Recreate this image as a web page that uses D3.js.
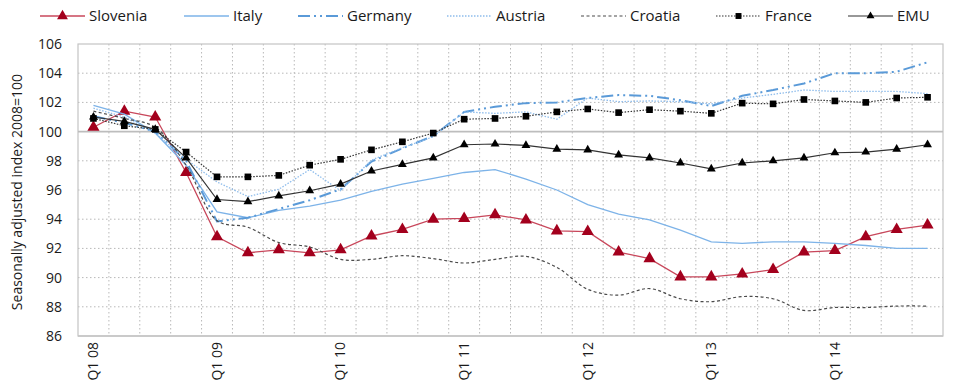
<!DOCTYPE html>
<html>
<head>
<meta charset="utf-8">
<script src="https://cdn.jsdelivr.net/npm/d3@7"></script>
<style>
  body { margin: 0; background: #fff; }
  svg { display: block; font-family: "Open Sans", "Noto Sans", sans-serif; }
</style>
</head>
<body>
<div id="chart"></div>
<script>
// ─── Data ─────────────────────────────────────────────────────
const quarters = [];
["08","09","10","11","12","13","14"].forEach(y => {
  ["Q1","Q2","Q3","Q4"].forEach(q => quarters.push(`${q} ${y}`));
});
const tickLabels = ["Q1 08","Q1 09","Q1 10","Q1 11","Q1 12","Q1 13","Q1 14"];

const slovenia = [100.3,101.4,101.0,97.2,92.8,91.7,91.9,91.7,91.9,92.85,93.3,94.0,94.05,94.3,93.95,93.2,93.15,91.75,91.3,90.05,90.05,90.25,90.55,91.75,91.85,92.8,93.3,93.6];
const italy    = [101.8,101.2,99.9,97.7,94.5,94.1,94.6,94.9,95.3,95.9,96.4,96.8,97.2,97.4,96.75,96.0,95.0,94.35,93.95,93.25,92.45,92.35,92.45,92.45,92.35,92.2,92.0,92.0];
const germany  = [101.05,100.6,100.0,98.0,93.85,94.1,94.7,95.3,96.05,97.95,98.85,99.7,101.35,101.7,101.95,102.0,102.3,102.5,102.45,102.15,101.75,102.45,102.85,103.3,104.0,104.0,104.1,104.75];
const austria  = [101.6,101.0,99.9,98.1,96.55,95.55,96.05,97.4,95.95,98.05,98.9,99.65,101.35,101.25,101.35,100.85,102.3,102.05,102.1,102.05,101.9,102.3,102.55,102.85,102.75,102.75,102.75,102.6];
const croatia  = [101.4,100.9,100.3,97.7,93.9,93.45,92.4,92.1,91.25,91.25,91.5,91.3,91.0,91.25,91.45,90.7,89.2,88.8,89.25,88.55,88.35,88.7,88.55,87.75,87.95,87.95,88.05,88.05];
const france   = [100.9,100.4,100.15,98.6,96.9,96.9,97.0,97.7,98.1,98.75,99.3,99.9,100.85,100.9,101.05,101.35,101.55,101.3,101.5,101.4,101.25,101.95,101.9,102.2,102.1,102.0,102.3,102.35];
const emu      = [101.0,100.7,100.15,98.2,95.35,95.2,95.6,95.95,96.4,97.3,97.75,98.2,99.1,99.15,99.05,98.8,98.75,98.4,98.2,97.85,97.45,97.85,98.0,98.2,98.55,98.6,98.8,99.1];

const series = [
  { name: "Slovenia", values: slovenia, color: "#c8475b", width: 1.3, dash: null,            marker: "tri",  mColor: "#a3001d", mSize: 64 },
  { name: "Italy",    values: italy,    color: "#7db3e8", width: 1.3, dash: null,            marker: null },
  { name: "Germany",  values: germany,  color: "#5a9ad8", width: 2,   dash: "12,4,2,4,2,4",  marker: null },
  { name: "Austria",  values: austria,  color: "#8fbdec", width: 1.3, dash: "1.5,1.5",       marker: null },
  { name: "Croatia",  values: croatia,  color: "#4a4a4a", width: 1.2, dash: "3,2.5",         marker: null, smooth: true },
  { name: "France",   values: france,   color: "#333333", width: 1.2, dash: "1.5,1.5",       marker: "sq",   mColor: "#000", mSize: 44 },
  { name: "EMU",      values: emu,      color: "#333333", width: 1.2, dash: null,            marker: "tri",  mColor: "#000", mSize: 34 }
];

// ─── Dimensions ───────────────────────────────────────────────
const W = 960, H = 386;
const m = { top: 44, right: 17, bottom: 50, left: 78 };
const w = W - m.left - m.right;
const h = H - m.top - m.bottom;

const svg = d3.select("#chart").append("svg")
  .attr("width", W).attr("height", H);

const g = svg.append("g").attr("transform", `translate(${m.left},${m.top})`);

// ─── Scales ───────────────────────────────────────────────────
const x = d3.scaleBand().domain(quarters).range([0, w]).padding(0);
const y = d3.scaleLinear().domain([86, 106]).range([h, 0]);
const cx = q => x(q) + x.bandwidth() / 2;

// ─── Grid ─────────────────────────────────────────────────────
g.append("g")
  .selectAll("line")
  .data(quarters.slice(1))
  .join("line")
  .attr("x1", d => x(d)).attr("x2", d => x(d))
  .attr("y1", 0).attr("y2", h)
  .attr("stroke", "#b8b8b8").attr("stroke-dasharray", "1.5,2.5");

const yTicks = d3.range(86, 107, 2);
g.append("g")
  .selectAll("line")
  .data(yTicks.filter(v => v !== 100 && v !== 86 && v !== 106))
  .join("line")
  .attr("x1", 0).attr("x2", w)
  .attr("y1", d => y(d)).attr("y2", d => y(d))
  .attr("stroke", "#b8b8b8").attr("stroke-dasharray", "1.5,2.5");

// frame and 100-line
g.append("rect")
  .attr("width", w).attr("height", h)
  .attr("fill", "none").attr("stroke", "#c4c4c4").attr("stroke-width", 1.2);
g.append("line")
  .attr("x1", 0).attr("x2", w).attr("y1", y(100)).attr("y2", y(100))
  .attr("stroke", "#bdbdbd").attr("stroke-width", 1.6);
g.append("line")
  .attr("x1", 0).attr("x2", w).attr("y1", h).attr("y2", h)
  .attr("stroke", "#c4c4c4").attr("stroke-width", 1.6);

// ─── Axes ─────────────────────────────────────────────────────
const yAxis = g.append("g")
  .call(d3.axisLeft(y).tickValues(yTicks).tickSize(0).tickPadding(16));
yAxis.select(".domain").remove();
yAxis.selectAll("text")
  .attr("fill", "#1a1a1a").style("font-size", "14px")
  .style("font-family", "'Open Sans', sans-serif");

const xAxis = g.append("g")
  .attr("transform", `translate(0,${h})`)
  .call(d3.axisBottom(x).tickValues(tickLabels).tickSize(0));
xAxis.select(".domain").remove();
xAxis.selectAll("text")
  .attr("transform", "rotate(-90)")
  .attr("x", -6).attr("y", 0).attr("dy", "0.35em")
  .attr("text-anchor", "end")
  .attr("fill", "#1a1a1a").style("font-size", "14px")
  .style("font-family", "'Open Sans', sans-serif");

svg.append("text")
  .attr("transform", `translate(22,${m.top + h / 2 + 2}) rotate(-90)`)
  .attr("text-anchor", "middle")
  .attr("fill", "#1a1a1a")
  .style("font-size", "14px")
  .text("Seasonally adjusted index 2008=100");

// ─── Lines ────────────────────────────────────────────────────
const symTri = d3.symbol().type(d3.symbolTriangle);
const symSq = d3.symbol().type(d3.symbolSquare);

series.forEach(s => {
  const line = d3.line()
    .x((d, i) => cx(quarters[i]))
    .y(d => y(d))
    .curve(s.smooth ? d3.curveCatmullRom.alpha(0.5) : d3.curveLinear);
  g.append("path")
    .datum(s.values)
    .attr("fill", "none")
    .attr("stroke", s.color)
    .attr("stroke-width", s.width)
    .attr("stroke-dasharray", s.dash)
    .attr("d", line);
  if (s.marker) {
    const sym = s.marker === "tri" ? symTri : symSq;
    g.append("g").selectAll("path")
      .data(s.values)
      .join("path")
      .attr("transform", (d, i) => `translate(${cx(quarters[i])},${y(d)})`)
      .attr("d", sym.size(s.mSize)())
      .attr("fill", s.mColor);
  }
});

// ─── Legend ───────────────────────────────────────────────────
const legendX = [40, 184, 298, 447, 581, 716, 848];
const legend = svg.append("g").attr("class", "legend");
series.forEach((s, i) => {
  const lg = legend.append("g").attr("transform", `translate(${legendX[i]},16)`);
  lg.append("line")
    .attr("x1", 0).attr("x2", 45).attr("y1", 0).attr("y2", 0)
    .attr("stroke", s.color).attr("stroke-width", s.width)
    .attr("stroke-dasharray", s.dash);
  if (s.marker) {
    const sym = s.marker === "tri" ? symTri : symSq;
    lg.append("path")
      .attr("transform", "translate(22.5,0)")
      .attr("d", sym.size(s.mSize * 0.8)())
      .attr("fill", s.mColor);
  }
  lg.append("text")
    .attr("x", 49).attr("y", 0).attr("dy", "0.35em")
    .attr("fill", "#1a1a1a")
    .style("font-size", "15px")
    .text(s.name);
});
</script>
</body>
</html>
